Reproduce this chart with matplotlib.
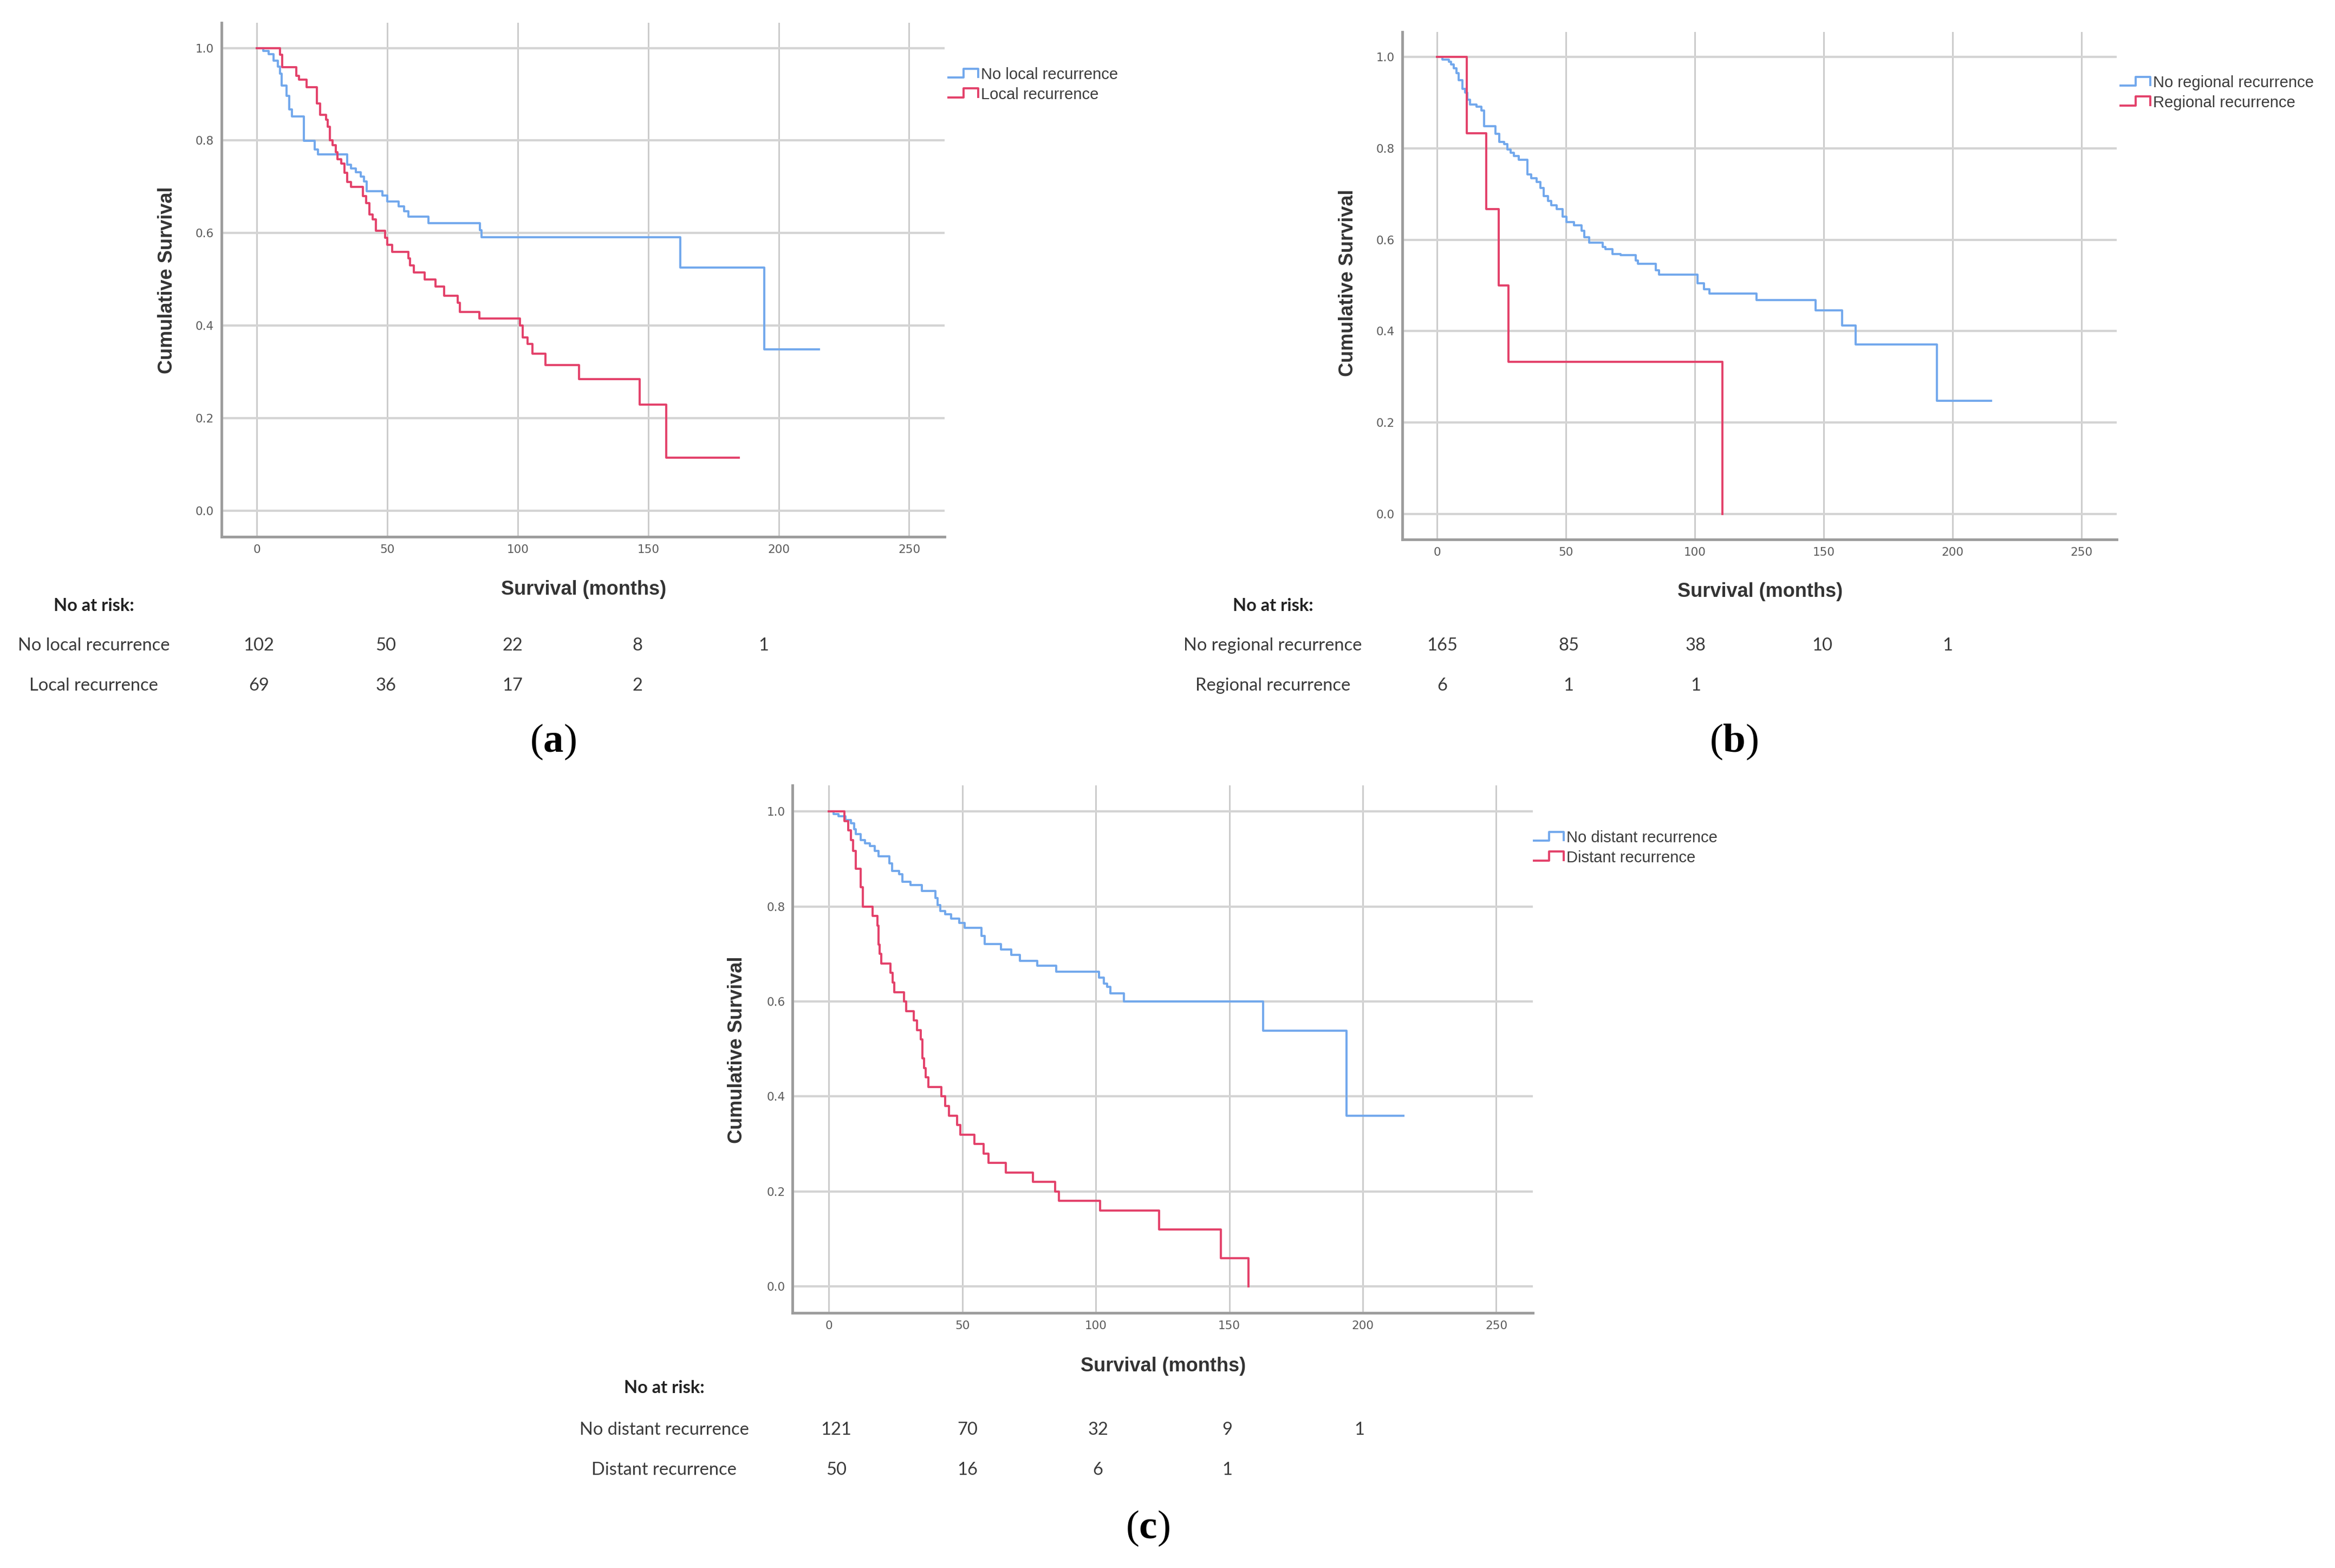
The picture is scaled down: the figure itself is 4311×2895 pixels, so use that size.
import numpy as np
import matplotlib
matplotlib.use("Agg")
import matplotlib.pyplot as plt
from matplotlib.lines import Line2D
from matplotlib.legend_handler import HandlerBase

W, H = 4311, 2895
DPI = 100

plt.rcParams['mathtext.fontset'] = 'custom'
plt.rcParams['mathtext.rm'] = 'Liberation Serif'
plt.rcParams['mathtext.bf'] = 'Liberation Serif:bold'

# ---- data (months, cumulative survival) ----
a_no_t = [0, 2.4, 4.6, 6.5, 8.0, 8.9, 9.6, 11.3, 12.4, 13.5, 18.1, 22.2, 23.5, 34.6, 36.1,
          38.0, 39.8, 41.1, 42.2, 48.1, 50.0, 54.3, 56.5, 58.0, 65.7, 85.6, 86.1, 162.4,
          194.4, 215.4]
a_no_s = [1.0, 0.993, 0.987, 0.973, 0.960, 0.945, 0.919, 0.897, 0.867, 0.852, 0.799, 0.781,
          0.770, 0.748, 0.740, 0.732, 0.722, 0.711, 0.691, 0.681, 0.668, 0.658, 0.647, 0.635,
          0.621, 0.606, 0.591, 0.525, 0.349, 0.349]
a_yes_t = [0, 8.9, 9.8, 15.2, 16.1, 19.1, 23.1, 24.3, 26.5, 27.2, 28.0, 29.1, 30.2, 30.9,
           32.4, 33.5, 34.6, 36.1, 40.7, 42.0, 43.1, 44.4, 45.7, 49.1, 50.0, 51.9, 58.0,
           58.7, 60.2, 64.3, 68.5, 71.7, 76.9, 77.8, 85.2, 100.9, 101.9, 103.7, 105.6,
           110.6, 123.5, 146.7, 156.9, 184.8]
a_yes_s = [1.0, 0.985, 0.958, 0.94, 0.931, 0.915, 0.88, 0.855, 0.845, 0.83, 0.80, 0.79,
           0.775, 0.76, 0.75, 0.73, 0.71, 0.70, 0.68, 0.665, 0.64, 0.63, 0.605, 0.59, 0.575,
           0.56, 0.545, 0.53, 0.515, 0.50, 0.485, 0.465, 0.45, 0.43, 0.415, 0.40, 0.375,
           0.36, 0.34, 0.315, 0.285, 0.23, 0.115, 0.115]

b_no_t = [0, 1.9, 4.5, 5.4, 6.4, 7.4, 8.4, 9.7, 10.9, 11.7, 12.8, 15.2, 17.1, 18.1, 22.5,
          24.1, 25.9, 27.2, 28.4, 29.7, 31.7, 35.0, 36.5, 38.5, 40.0, 41.4, 43.0, 44.3,
          46.3, 48.6, 50.2, 53.1, 56.0, 57.0, 58.9, 64.2, 65.3, 68.0, 71.2, 77.0, 77.8,
          84.8, 86.1, 101.1, 103.6, 105.6, 124.0, 146.8, 157.1, 162.3, 194.0, 215.0]
b_no_s = [1.0, 0.994, 0.990, 0.983, 0.975, 0.964, 0.949, 0.930, 0.922, 0.907, 0.896, 0.891,
          0.883, 0.848, 0.832, 0.814, 0.809, 0.798, 0.790, 0.783, 0.775, 0.743, 0.735,
          0.726, 0.713, 0.696, 0.685, 0.675, 0.667, 0.651, 0.639, 0.632, 0.620, 0.605,
          0.594, 0.584, 0.579, 0.569, 0.566, 0.555, 0.547, 0.533, 0.524, 0.505, 0.492,
          0.482, 0.468, 0.445, 0.412, 0.371, 0.247, 0.247]
b_yes_t = [0, 11.5, 19.1, 23.9, 27.6, 110.6]
b_yes_s = [1.0, 0.833, 0.667, 0.5, 0.333, 0.0]

c_no_t = [0, 1.8, 3.6, 6.3, 8.2, 9.4, 10.0, 11.8, 13.6, 15.4, 17.2, 18.5, 22.7, 23.6, 26.3,
          27.6, 30.5, 34.8, 39.9, 40.8, 41.7, 43.5, 45.7, 48.9, 50.8, 57.1, 58.4, 64.4,
          68.2, 71.6, 78.0, 85.2, 101.2, 103.0, 104.2, 105.5, 110.6, 162.6, 194.0, 215.2]
c_no_s = [1.0, 0.995, 0.990, 0.982, 0.975, 0.963, 0.952, 0.940, 0.933, 0.927, 0.917, 0.906,
          0.891, 0.875, 0.868, 0.852, 0.845, 0.833, 0.818, 0.803, 0.791, 0.784, 0.774,
          0.765, 0.755, 0.738, 0.721, 0.709, 0.698, 0.686, 0.675, 0.663, 0.650, 0.638,
          0.631, 0.617, 0.600, 0.539, 0.359, 0.359]
c_yes_t = [0, 5.8, 7.3, 8.2, 9.1, 10.0, 11.8, 12.7, 16.3, 18.1, 18.5, 19.0, 19.6, 23.0, 23.9,
           24.5, 28.1, 29.0, 31.7, 33.0, 34.4, 35.0, 35.7, 36.3, 37.2, 42.1, 43.5, 45.0,
           48.0, 49.3, 54.4, 58.0, 59.8, 66.2, 76.5, 84.8, 86.1, 101.5, 123.6, 146.8, 157.2]
c_yes_s = [1.0, 0.98, 0.96, 0.94, 0.917, 0.879, 0.841, 0.80, 0.78, 0.76, 0.72, 0.70, 0.68,
           0.66, 0.64, 0.62, 0.60, 0.58, 0.56, 0.54, 0.52, 0.48, 0.46, 0.44, 0.42, 0.40,
           0.38, 0.36, 0.34, 0.32, 0.30, 0.28, 0.26, 0.24, 0.22, 0.20, 0.18, 0.16, 0.12,
           0.06, 0.0]

a_labels = ['No local recurrence', 'Local recurrence']
b_labels = ['No regional recurrence', 'Regional recurrence']
c_labels = ['No distant recurrence', 'Distant recurrence']

a_risk = [[102, 50, 22, 8, 1], [69, 36, 17, 2]]
b_risk = [[165, 85, 38, 10, 1], [6, 1, 1]]
c_risk = [[121, 70, 32, 9, 1], [50, 16, 6, 1]]

x_ticks = [0, 50, 100, 150, 200, 250]
y_ticks = [0.0, 0.2, 0.4, 0.6, 0.8, 1.0]

BLUE = '#72a8ec'
RED = '#e3416a'


def fx(x):
    return x / W


def fy(y):
    return 1 - y / H


class StepHandler(HandlerBase):
    # little step glyph like the SPSS legend
    def create_artists(self, legend, orig_handle, xdescent, ydescent, width, height,
                       fontsize, trans):
        xs = np.array([0, 0.5, 0.5, 1.0, 1.0]) * width - xdescent
        ys = np.array([0.15, 0.15, 0.95, 0.95, 0.2]) * height - ydescent
        ln = Line2D(xs, ys, color=orig_handle.get_color(),
                    lw=orig_handle.get_linewidth(), transform=trans)
        return [ln]


fig = plt.figure(figsize=(W / DPI, H / DPI), dpi=DPI)

panels = [
    dict(t=(a_no_t, a_yes_t), s=(a_no_s, a_yes_s), labels=a_labels, risk=a_risk, letter='a',
         box=(408.6, 41.5, 1744, 991), ylab=(308, 517), xlab=(1078, 1088), leg=(1751, 143),
         head=(173, 1119), rows=(1192, 1266), nums=(478, 712, 946, 1177, 1410),
         let=(1021, 1370)),
    dict(t=(b_no_t, b_yes_t), s=(b_no_s, b_yes_s), labels=b_labels, risk=b_risk, letter='b',
         box=(2588.8, 58.7, 3907.5, 996), ylab=(2488, 522), xlab=(3250, 1092),
         leg=(3915, 158), head=(2350, 1119), rows=(1192, 1266),
         nums=(2663, 2896, 3131, 3364, 3596), let=(3201, 1370)),
    dict(t=(c_no_t, c_yes_t), s=(c_no_s, c_yes_s), labels=c_labels, risk=c_risk, letter='c',
         box=(1463.4, 1450, 2829.5, 2424.4), ylab=(1361, 1938), xlab=(2148, 2522),
         leg=(2832, 1552), head=(1226, 2563), rows=(2640, 2714),
         nums=(1544, 1786, 2027, 2266, 2510), let=(2119, 2822)),
]

for p in panels:
    l, t, r, b = p['box']
    ax = fig.add_axes([fx(l), fy(b), (r - l) / W, (b - t) / H])
    ax.set_xlim(-13.6, 263.6)
    ax.set_ylim(-0.056, 1.055)
    ax.set_xticks(x_ticks)
    ax.set_yticks(y_ticks)
    ax.set_yticklabels(['%.1f' % v for v in y_ticks])
    ax.tick_params(length=0, labelsize=15.5, labelcolor='#5a5a5a', pad=10)
    for lab in ax.get_xticklabels() + ax.get_yticklabels():
        lab.set_fontfamily('DejaVu Sans')
    ax.xaxis.grid(True, color='#c9c9c9', lw=2.0)
    ax.yaxis.grid(True, color='#d4d4d4', lw=3.0)
    ax.set_axisbelow(True)
    for side in ['top', 'right']:
        ax.spines[side].set_visible(False)
    for side in ['left', 'bottom']:
        ax.spines[side].set_color('#9c9c9c')
        ax.spines[side].set_linewidth(3.5)

    lines = []
    for tt, ss, col, lab in zip(p['t'], p['s'], (BLUE, RED), p['labels']):
        ln, = ax.step(tt, ss, where='post', color=col, lw=2.8, label=lab)
        lines.append(ln)

    lx, ly = p['leg']
    ax.legend(handles=lines, loc='upper left', bbox_to_anchor=(fx(lx), fy(ly - 19)),
              bbox_transform=fig.transFigure, frameon=False, borderpad=0,
              borderaxespad=0, handlelength=1.9, handletextpad=0.15, labelspacing=0.3,
              handler_map={Line2D: StepHandler()},
              prop=dict(family='Liberation Sans', size=21))
    leg = ax.get_legend()
    for txt in leg.get_texts():
        txt.set_color('#3c3c3c')

    fig.text(fx(p['ylab'][0]), fy(p['ylab'][1]), 'Cumulative Survival', rotation=90,
             ha='center', va='center', fontsize=26, fontweight='bold',
             family='Liberation Sans', color='#333333')
    fig.text(fx(p['xlab'][0]), fy(p['xlab'][1]), 'Survival (months)', ha='center',
             va='center', fontsize=26, fontweight='bold', family='Liberation Sans',
             color='#333333')

    # number at risk table
    fig.text(fx(p['head'][0]), fy(p['head'][1]), 'No at risk:', ha='center', va='center',
             fontsize=23.5, fontweight='bold', family='Lato', color='#222222')
    for row_y, lab, counts in zip(p['rows'], p['labels'], p['risk']):
        fig.text(fx(p['head'][0]), fy(row_y), lab, ha='center', va='center', fontsize=23.5,
                 family='Lato', color='#3a3a3a')
        for nx, n in zip(p['nums'], counts):
            fig.text(fx(nx), fy(row_y), str(n), ha='center', va='center', fontsize=23.5,
                     family='Lato', color='#3a3a3a')

    fig.text(fx(p['let'][0]), fy(p['let'][1]), '($\\mathbf{%s}$)' % p['letter'],
             ha='center', va='center', fontsize=54, family='Liberation Serif',
             color='black')

fig.savefig('out.png', dpi=DPI, facecolor='white')
